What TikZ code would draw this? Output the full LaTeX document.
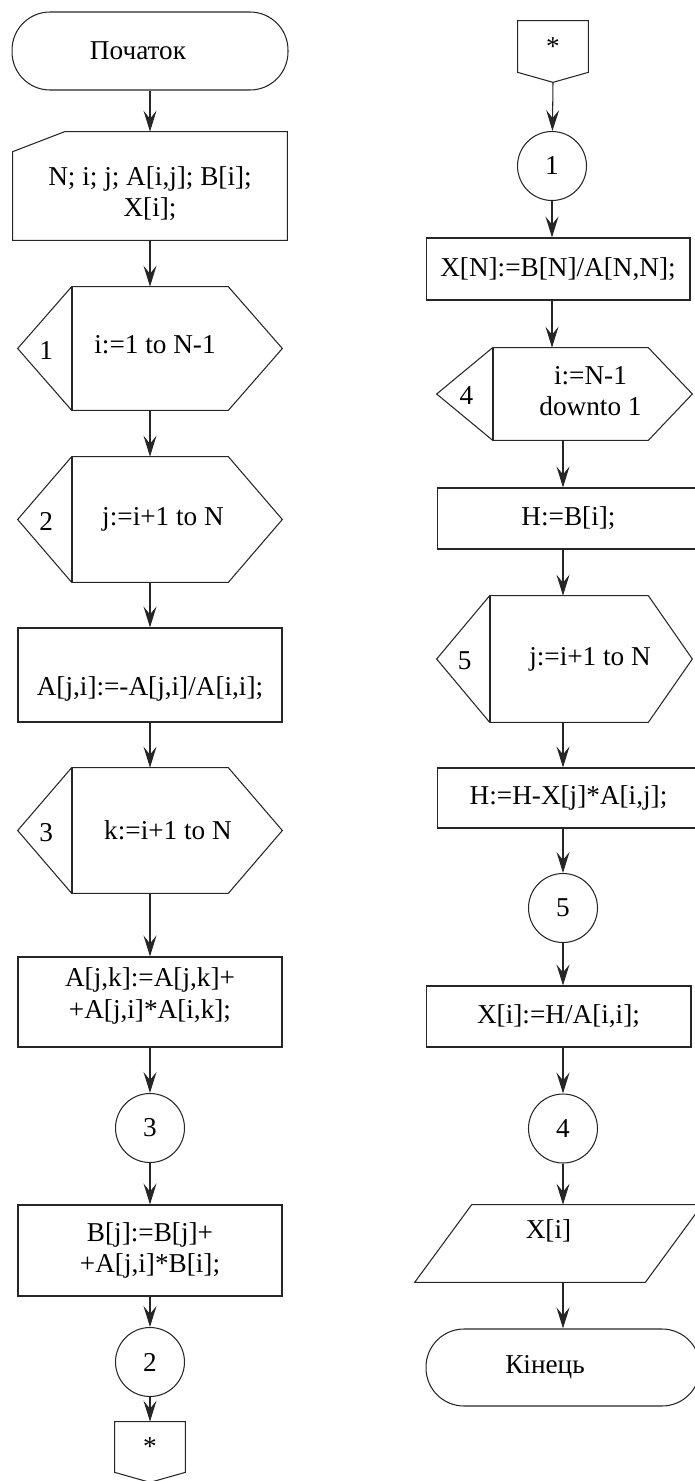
\documentclass[tikz,border=0pt]{standalone}
\usepackage{fontspec}
\setmainfont{Liberation Serif}
\usetikzlibrary{calc, arrows.meta}

\tikzset{
  flowline/.style={draw=black!85, line width=0.6pt},
  sepline/.style={draw=black!85, line width=1.1pt},
  arrowline/.style={draw=black!85, line width=0.6pt, -{Stealth[length=4.2mm, width=2.6mm, inset=1.6mm]}},
  procbox/.style={rectangle, draw=black!85, line width=0.6pt, align=center, inner sep=0pt},
  termbox/.style={procbox, rounded corners=0.76cm},
  bodybox/.style={rectangle, align=center, inner sep=0pt},
  joint/.style={circle, draw=black!85, line width=0.6pt, minimum size=1.38cm, inner sep=0pt},
}

\begin{document}
\begin{tikzpicture}[x=0.02cm, y=-0.02cm, font=\fontsize{15.5}{17.8}\selectfont,
    every label/.style={align=center, inner sep=0pt}]
    \useasboundingbox (0,0) rectangle (694,1481);

    % forward elimination
    \node[termbox, minimum width=5.52cm, minimum height=1.56cm,
        label={[xshift=-0.24cm]center:Початок}] (start) at (150,51) {};
    \node[bodybox, minimum width=5.48cm, minimum height=2.16cm,
        label={[yshift=-0.16cm]center:N; i; j; A[i,j]; B[i];\\ X[i];}] (input) at (150,186) {};
    \node[bodybox, minimum width=3.12cm, minimum height=2.46cm,
        label={[xshift=0.1cm, yshift=0.08cm]center:i:=1 to N-1}] (loopA) at (150,348.5) {};
    \node[bodybox, minimum width=3.12cm, minimum height=2.5cm,
        label={[xshift=0.26cm]center:j:=i+1 to N}] (loopB) at (150,519.5) {};
    \node[procbox, minimum width=5.28cm, minimum height=1.88cm,
        label={[yshift=-0.28cm]center:A[j,i]:=-A[j,i]/A[i,i];}] (divA) at (150,675) {};
    \node[bodybox, minimum width=3.12cm, minimum height=2.5cm,
        label={[xshift=0.36cm]center:k:=i+1 to N}] (loopC) at (150,830.5) {};
    \node[procbox, minimum width=5.28cm, minimum height=1.8cm,
        label={[yshift=0.12cm]center:A[j,k]:=A[j,k]+\\+A[j,i]*A[i,k];}] (updA) at (150,1002) {};
    \node[joint] (endC) at (150,1128) {3};
    \node[procbox, minimum width=5.28cm, minimum height=1.82cm] (updB) at (150,1250.5) {B[j]:=B[j]+\\+A[j,i]*B[i];};
    \node[joint] (endB) at (150,1362) {2};
    \node[bodybox, minimum width=1.4cm, minimum height=1cm] (pageA) at (150,1447) {*};

    % back substitution
    \coordinate (colT) at (552,0);
    \coordinate (colR) at (563,0);
    \node[bodybox, minimum width=1.4cm, minimum height=1.02cm] (pageB) at (553,46.5) {*};
    \coordinate (pageB-tip) at ($(pageB.south)+(0,10)$);
    \node[joint] (endA) at (552,166) {1};
    \node[procbox, minimum width=5.28cm, minimum height=1.24cm] (solveN) at (558,269) {X[N]:=B[N]/A[N,N];};
    \node[bodybox, minimum width=3.1cm, minimum height=1.84cm,
        label={[xshift=0.4cm, yshift=0.06cm]center:i:=N-1\\downto 1}] (loopD) at (570.5,394) {};
    \node[procbox, minimum width=5.26cm, minimum height=1.22cm] (initH) at (568.5,518.5) {H:=B[i];};
    \node[bodybox, minimum width=3.16cm, minimum height=2.52cm,
        label={[xshift=0.42cm]center:j:=i+1 to N}] (loopE) at (569,659) {};
    \node[procbox, minimum width=5.26cm, minimum height=1.2cm] (accH) at (568.5,798) {H:=H-X[j]*A[i,j];};
    \node[joint] (endE) at (563,908) {5};
    \node[procbox, minimum width=5.3cm, minimum height=1.22cm] (solveX) at (558.5,1016.5) {X[i]:=H/A[i,i];};
    \node[joint] (endD) at (563,1128.5) {4};
    \node[bodybox, minimum width=5.74cm, minimum height=1.54cm,
        label={[xshift=-0.2cm, yshift=0.26cm]center:X[i]}] (output) at (558.5,1243.5) {};
    \node[termbox, minimum width=5.48cm, minimum height=1.54cm,
        label={[xshift=-0.36cm]center:Кінець}] (finish) at (563,1367.5) {};

    % outlines
    \draw[flowline] ($(input.north west)+(0,20)$) -- ($(input.north west)+(52,0)$) -- (input.north east) -- (input.south east) -- (input.south west) -- cycle;
    \foreach \lp/\dl/\dr/\num in {loopA/54/54/1, loopB/54/54/2, loopC/54/54/3, loopD/56/44/4, loopE/53/44/5} {
        \draw[flowline] (\lp.north west) -- (\lp.north east) -- ($(\lp.east)+(\dr,0)$) -- (\lp.south east) -- (\lp.south west) -- ($(\lp.west)+(-\dl,0)$) -- cycle;
        \draw[sepline] (\lp.north west) -- (\lp.south west);
        \node (\lp-num) at ($(\lp.west)+(-0.47*\dl,2)$) {\num};
    }
    \foreach \pg in {pageA, pageB}
        \draw[flowline] (\pg.north west) -- (\pg.north east) -- (\pg.south east) -- ($(\pg.south)+(0,10)$) -- (\pg.south west) -- cycle;
    \draw[flowline] ($(output.north west)+(57,0)$) -- (output.north east) -- ($(output.south east)+(-57,0)$) -- (output.south west) -- cycle;

    % connectors
    \foreach \a/\b in {start/input, input/loopA, loopA/loopB, loopB/divA, divA/loopC, loopC/updA, updA/endC, endC/updB, updB/endB, endB/pageA}
        \draw[arrowline] (\a) -- (\b);
    \draw[arrowline] (pageB-tip) -- (endA);
    \draw[arrowline] (endA) -- (endA |- solveN.north);
    \draw[arrowline] (solveN.south -| colT) -- (colT |- loopD.north);
    \foreach \a/\b in {loopD/initH, initH/loopE, loopE/accH, accH/endE, endE/solveX, solveX/endD, endD/output, output/finish}
        \draw[arrowline] (\a.south -| colR) -- (\b.north -| colR);
\end{tikzpicture}
\end{document}
